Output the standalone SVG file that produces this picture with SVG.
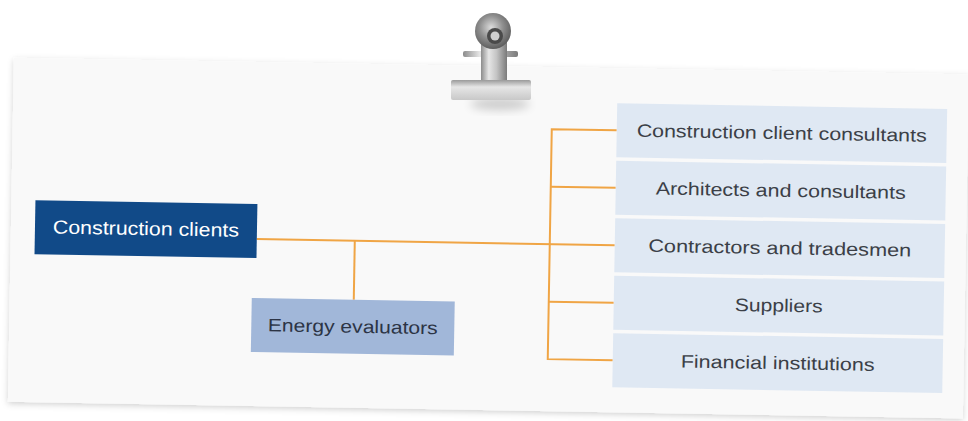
<svg xmlns="http://www.w3.org/2000/svg" width="968" height="421" viewBox="0 0 968 421">
  <defs>
    <filter id="paperShadow" x="-5%" y="-10%" width="110%" height="125%">
      <feDropShadow dx="0" dy="2" stdDeviation="3" flood-color="#000" flood-opacity="0.18"/>
    </filter>
    <filter id="soft" x="-50%" y="-50%" width="200%" height="200%">
      <feGaussianBlur stdDeviation="5"/>
    </filter>
    <linearGradient id="metal" x1="0" y1="0" x2="1" y2="0">
      <stop offset="0" stop-color="#8c8c8c"/>
      <stop offset="0.3" stop-color="#e6e6e6"/>
      <stop offset="0.6" stop-color="#c4c4c4"/>
      <stop offset="1" stop-color="#7a7a7a"/>
    </linearGradient>
    <linearGradient id="base" x1="0" y1="0" x2="0" y2="1">
      <stop offset="0" stop-color="#9a9a9a"/>
      <stop offset="0.35" stop-color="#e6e6e6"/>
      <stop offset="1" stop-color="#c8c8c8"/>
    </linearGradient>
    <radialGradient id="ring" cx="0.45" cy="0.4" r="0.6">
      <stop offset="0" stop-color="#dcdcdc"/>
      <stop offset="0.55" stop-color="#8e8e8e"/>
      <stop offset="1" stop-color="#5e5e5e"/>
    </radialGradient>
  </defs>
  <style>
    .line { stroke: #f0a545; stroke-width: 2; fill: none; }
    .row { fill: #dfe8f3; }
    .row-text { font-family: "Liberation Sans", "DejaVu Sans", sans-serif; font-size: 18px; fill: #3b3f47; text-anchor: middle; }
    .main-text { font-family: "Liberation Sans", "DejaVu Sans", sans-serif; font-size: 19px; fill: #ffffff; text-anchor: middle; }
    .eval-text { font-family: "Liberation Sans", "DejaVu Sans", sans-serif; font-size: 18px; fill: #2c3445; text-anchor: middle; }
  </style>

  <rect x="0" y="0" width="968" height="421" fill="#ffffff"/>

  <!-- sheet of paper, slightly tilted -->
  <g transform="rotate(1 484 230)">
    <rect x="11" y="66" width="955" height="344" fill="#f9f9f9" filter="url(#paperShadow)"/>

    <!-- connectors -->
    <g id="connectors">
      <polyline class="line" points="257,243 615,243"/>
      <polyline class="line" points="355,243 355,302"/>
      <polyline class="line" points="615,128 550,128 550,358 615,358"/>
      <polyline class="line" points="550,185.5 615,185.5"/>
      <polyline class="line" points="550,300.5 615,300.5"/>
    </g>

    <g id="construction-clients">
      <rect x="35" y="208" width="222" height="54" fill="#114a88"/>
      <text class="main-text" x="146" y="241" textLength="186" lengthAdjust="spacingAndGlyphs">Construction clients</text>
    </g>

    <g id="energy-evaluators">
      <rect x="253" y="302" width="203" height="54" fill="#a1b7d9"/>
      <text class="eval-text" x="354.5" y="335" textLength="170" lengthAdjust="spacingAndGlyphs">Energy evaluators</text>
    </g>

    <g id="client-consultants">
      <rect class="row" x="615" y="101" width="330" height="54"/>
      <text class="row-text" x="780" y="134" textLength="290" lengthAdjust="spacingAndGlyphs">Construction client consultants</text>
    </g>
    <g id="architects">
      <rect class="row" x="615" y="158.5" width="330" height="54"/>
      <text class="row-text" x="780" y="191.5" textLength="250" lengthAdjust="spacingAndGlyphs">Architects and consultants</text>
    </g>
    <g id="contractors">
      <rect class="row" x="615" y="216" width="330" height="54"/>
      <text class="row-text" x="780" y="249" textLength="263" lengthAdjust="spacingAndGlyphs">Contractors and tradesmen</text>
    </g>
    <g id="suppliers">
      <rect class="row" x="615" y="273.5" width="330" height="54"/>
      <text class="row-text" x="780" y="306.5" textLength="88" lengthAdjust="spacingAndGlyphs">Suppliers</text>
    </g>
    <g id="financial">
      <rect class="row" x="615" y="331" width="330" height="54"/>
      <text class="row-text" x="780" y="364" textLength="194" lengthAdjust="spacingAndGlyphs">Financial institutions</text>
    </g>
  </g>

  <!-- metal clip holding the sheet -->
  <g id="clip">
    <ellipse cx="500" cy="104" rx="30" ry="6" fill="#000" opacity="0.18" filter="url(#soft)"/>
    <rect x="463" y="51" width="55" height="6" rx="2" fill="url(#metal)"/>
    <rect x="481" y="40" width="26" height="42" fill="url(#metal)"/>
    <circle cx="493" cy="31" r="18" fill="url(#ring)"/>
    <circle cx="495" cy="36" r="8" fill="#4a4a4a"/>
    <circle cx="495" cy="36" r="4.5" fill="#cfcfcf"/>
    <rect x="451" y="80" width="80" height="20" rx="2" fill="url(#base)"/>
  </g>
</svg>
